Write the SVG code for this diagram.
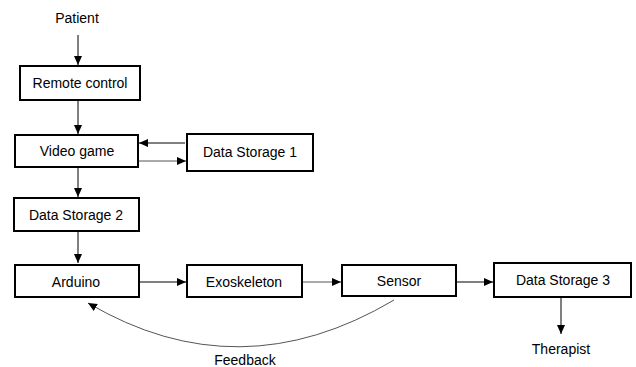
<svg xmlns="http://www.w3.org/2000/svg" width="636" height="367" viewBox="0 0 636 367">
<style>
.box{fill:#fff;stroke:#000;stroke-width:2}
.t{font-family:"Liberation Sans",Arial,sans-serif;font-size:14px;fill:#000;text-anchor:middle;dominant-baseline:central}
.c{fill:none;stroke:#000;stroke-width:1}
.g{fill:none;stroke:#555;stroke-width:1}
</style>
<defs>
<marker id="ah" markerWidth="10" markerHeight="8" refX="9" refY="4" orient="auto" markerUnits="userSpaceOnUse">
<path d="M0,0 L9,4 L0,8 Z" fill="#000"/>
</marker>
</defs>
<rect width="636" height="367" fill="#fff"/>
<g id="connectors">
<line class="c" x1="78" y1="35" x2="78" y2="65" marker-end="url(#ah)"/>
<line class="c" x1="78" y1="101" x2="78" y2="134" marker-end="url(#ah)"/>
<line class="c" x1="185" y1="143" x2="139" y2="143" marker-end="url(#ah)"/>
<line class="g" x1="139" y1="161" x2="186" y2="161" marker-end="url(#ah)"/>
<line class="c" x1="78" y1="168" x2="78" y2="197" marker-end="url(#ah)"/>
<line class="c" x1="78" y1="232" x2="78" y2="263" marker-end="url(#ah)"/>
<line class="c" x1="140" y1="282" x2="186" y2="282" marker-end="url(#ah)"/>
<line class="g" x1="303" y1="282" x2="341" y2="282" marker-end="url(#ah)"/>
<line class="c" x1="457" y1="282" x2="493" y2="282" marker-end="url(#ah)"/>
<line class="c" x1="561" y1="298" x2="561" y2="334" marker-end="url(#ah)"/>
<path class="g" d="M394,300 Q239,392 88,303" marker-end="url(#ah)"/>
<text class="t" x="245" y="360">Feedback</text>
</g>
<g id="patient"><text class="t" x="77" y="18">Patient</text></g>
<g id="remote"><rect class="box" x="20" y="66" width="120" height="34"/><text class="t" x="80" y="83">Remote control</text></g>
<g id="videogame"><rect class="box" x="15" y="135" width="123" height="32"/><text class="t" x="77" y="151">Video game</text></g>
<g id="ds1"><rect class="box" x="187" y="134" width="126" height="37"/><text class="t" x="250" y="152">Data Storage 1</text></g>
<g id="ds2"><rect class="box" x="14" y="198" width="125" height="33"/><text class="t" x="76" y="215">Data Storage 2</text></g>
<g id="arduino"><rect class="box" x="15" y="265" width="124" height="32"/><text class="t" x="76" y="282">Arduino</text></g>
<g id="exoskeleton"><rect class="box" x="187" y="265" width="115" height="32"/><text class="t" x="244" y="282">Exoskeleton</text></g>
<g id="sensor"><rect class="box" x="342" y="265" width="114" height="31"/><text class="t" x="399" y="281">Sensor</text></g>
<g id="ds3"><rect class="box" x="494" y="263" width="137" height="34"/><text class="t" x="563" y="280">Data Storage 3</text></g>
<g id="therapist"><text class="t" x="561" y="349">Therapist</text></g>
</svg>
